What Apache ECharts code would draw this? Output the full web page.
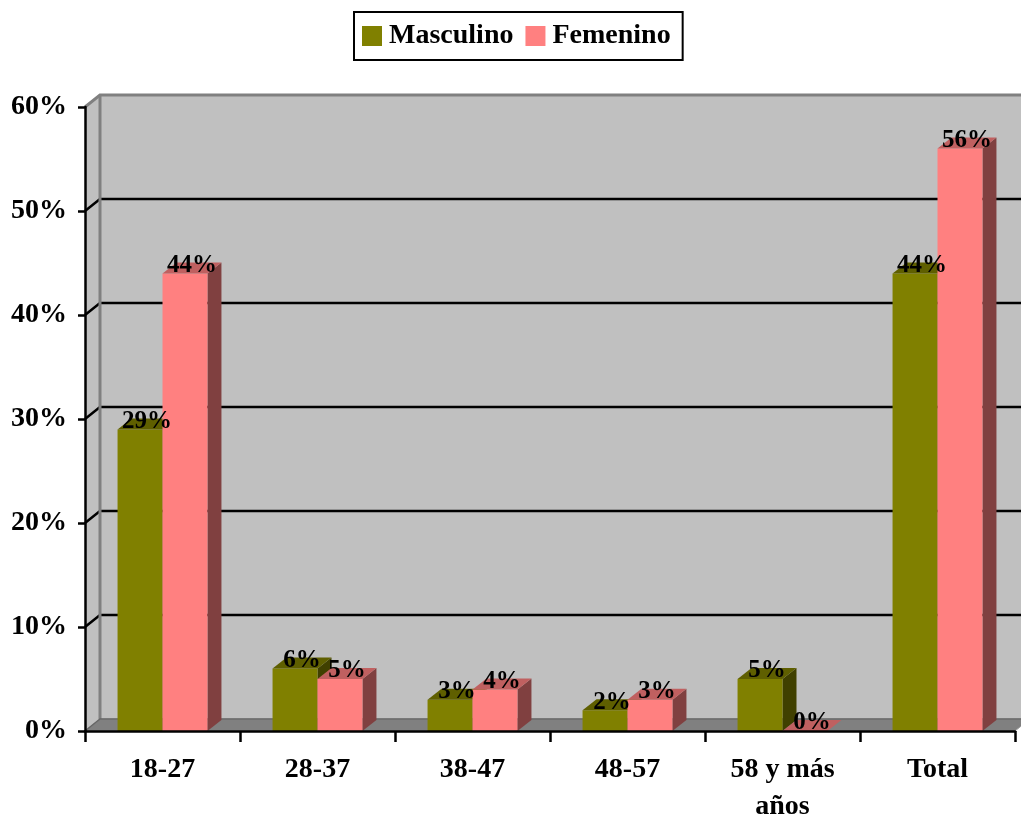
<!DOCTYPE html>
<html>
<head>
<meta charset="utf-8">
<script src="https://cdn.jsdelivr.net/npm/echarts@6/dist/echarts.min.js"></script>
<style>
  html, body { margin: 0; padding: 0; background: #ffffff; }
  #chart { width: 1021px; height: 816px; }
</style>
</head>
<body>
<div id="chart"></div>
<script>
// Age groups and share (%) per sex
const categories = ['18-27', '28-37', '38-47', '48-57', '58 y más\naños', 'Total'];
const masculino = [29, 6, 3, 2, 5, 44];
const femenino = [44, 5, 4, 3, 0, 56];
const yTicks = [0, 10, 20, 30, 40, 50, 60];

const FONT = '"Liberation Serif", "Times New Roman", serif';
const DEPTH_X = 15;   // wall depth, px
const DEPTH_Y = -12;
const BAR_DX = 14;    // bar depth, px
const BAR_DY = -11;

// Back wall, side wall, floor and grid lines, placed through the axes
function renderWalls(params, api) {
  const cs = params.coordSys;
  const left = cs.x, right = cs.x + cs.width;
  const y0 = api.coord([0, 0])[1];
  const yTop = api.coord([0, yTicks[yTicks.length - 1]])[1];
  const dx = DEPTH_X, dy = DEPTH_Y;
  const children = [];
  // back wall
  children.push({ type: 'polygon', shape: { points: [[left + dx, yTop + dy], [right + dx, yTop + dy], [right + dx, y0 + dy], [left + dx, y0 + dy]] },
    style: { fill: '#c0c0c0' } });
  // side wall
  children.push({ type: 'polygon', shape: { points: [[left, yTop], [left + dx, yTop + dy], [left + dx, y0 + dy], [left, y0]] },
    style: { fill: '#c0c0c0' } });
  // floor
  children.push({ type: 'polygon', shape: { points: [[left, y0], [left + dx, y0 + dy], [right + dx, y0 + dy], [right, y0]] },
    style: { fill: '#808080', stroke: '#a0a0a0', lineWidth: 1 } });
  // grid lines on walls
  yTicks.slice(1, -1).forEach(function (v) {
    const y = api.coord([0, v])[1];
    children.push({ type: 'polyline', shape: { points: [[left, y], [left + dx, y + dy], [right + dx, y + dy]] },
      style: { stroke: '#000000', lineWidth: 2.5, fill: null } });
  });
  // wall edges
  children.push({ type: 'polyline', shape: { points: [[left, yTop], [left + dx, yTop + dy], [right + dx, yTop + dy]] },
    style: { stroke: '#808080', lineWidth: 3, fill: null } });
  children.push({ type: 'line', shape: { x1: left + dx, y1: yTop + dy, x2: left + dx, y2: y0 + dy },
    style: { stroke: '#808080', lineWidth: 3 } });
  children.push({ type: 'polyline', shape: { points: [[left, y0], [left + dx, y0 + dy], [right + dx, y0 + dy]] },
    style: { stroke: '#666666', lineWidth: 1.5, fill: null } });
  return { type: 'group', children: children };
}

// 3D-looking column: front, top and side faces
function makeBarRenderer(side, front, top, sideColor) {
  return function (params, api) {
    const idx = api.value(0);
    const val = api.value(1);
    const p = api.coord([idx, val]);
    const b = api.coord([idx, 0]);
    const band = api.size([1, 0])[0];
    const w = band * 0.29;
    const x0 = side === 0 ? p[0] - w : p[0];
    const x1 = x0 + w;
    const yt = p[1], yb = b[1];
    const dx = BAR_DX, dy = BAR_DY;
    const children = [];
    if (yb - yt > 0.5) {
      children.push({ type: 'polygon', shape: { points: [[x1, yt], [x1 + dx, yt + dy], [x1 + dx, yb + dy], [x1, yb]] },
        style: { fill: sideColor } });
      children.push({ type: 'rect', shape: { x: x0, y: yt, width: w, height: yb - yt },
        style: { fill: front } });
    }
    children.push({ type: 'polygon', shape: { points: [[x0, yt], [x0 + dx, yt + dy], [x1 + dx, yt + dy], [x1, yt]] },
      style: { fill: top } });
    children.push({ type: 'text', z2: 100,
      style: { text: val + '%', x: (x0 + x1) / 2 + dx / 2, y: yt - 8, align: 'center', verticalAlign: 'middle',
        font: 'bold 25px ' + FONT, fill: '#000000' } });
    return { type: 'group', children: children };
  };
}

const chart = echarts.init(document.getElementById('chart'), null, { renderer: 'canvas' });
chart.setOption({
  backgroundColor: '#ffffff',
  animation: false,
  legend: {
    data: ['Masculino', 'Femenino'],
    left: 354, top: 12,
    icon: 'rect', itemWidth: 20, itemHeight: 20, itemGap: 12,
    padding: [10, 12, 10, 8],
    borderColor: '#000000', borderWidth: 2,
    textStyle: { fontFamily: FONT, fontWeight: 'bold', fontSize: 28, color: '#000000', padding: [0, 0, 0, 2] }
  },
  grid: { left: 85, right: 6, top: 107, bottom: 85, outerBoundsMode: 'none', containLabel: false },
  xAxis: {
    type: 'category',
    data: categories,
    axisLine: { lineStyle: { color: '#000000', width: 2.5 } },
    axisTick: { show: true, length: 11, lineStyle: { color: '#000000', width: 2.5 } },
    axisLabel: { margin: 20, fontFamily: FONT, fontWeight: 'bold', fontSize: 28, color: '#000000', lineHeight: 37 },
    z: 10
  },
  yAxis: {
    type: 'value',
    min: 0, max: 60, interval: 10,
    axisLine: { show: true, lineStyle: { color: '#000000', width: 2.5 } },
    axisTick: { show: true, length: 7, lineStyle: { color: '#000000', width: 2.5 } },
    axisLabel: { formatter: '{value}%', margin: 18, fontFamily: FONT, fontWeight: 'bold', fontSize: 28, color: '#000000' },
    splitLine: { show: false },
    z: 10
  },
  series: [
    { type: 'custom', name: 'walls', z: 1, silent: true, clip: false, data: [[0, 0]], renderItem: renderWalls },
    { type: 'custom', name: 'Masculino', z: 2, clip: false, itemStyle: { color: '#808000' },
      data: masculino.map(function (v, i) { return [i, v]; }),
      renderItem: makeBarRenderer(0, '#808000', '#5f5f00', '#404000') },
    { type: 'custom', name: 'Femenino', z: 2, clip: false, itemStyle: { color: '#ff8080' },
      data: femenino.map(function (v, i) { return [i, v]; }),
      renderItem: makeBarRenderer(1, '#ff8080', '#c06060', '#804040') }
  ]
});
</script>
</body>
</html>
